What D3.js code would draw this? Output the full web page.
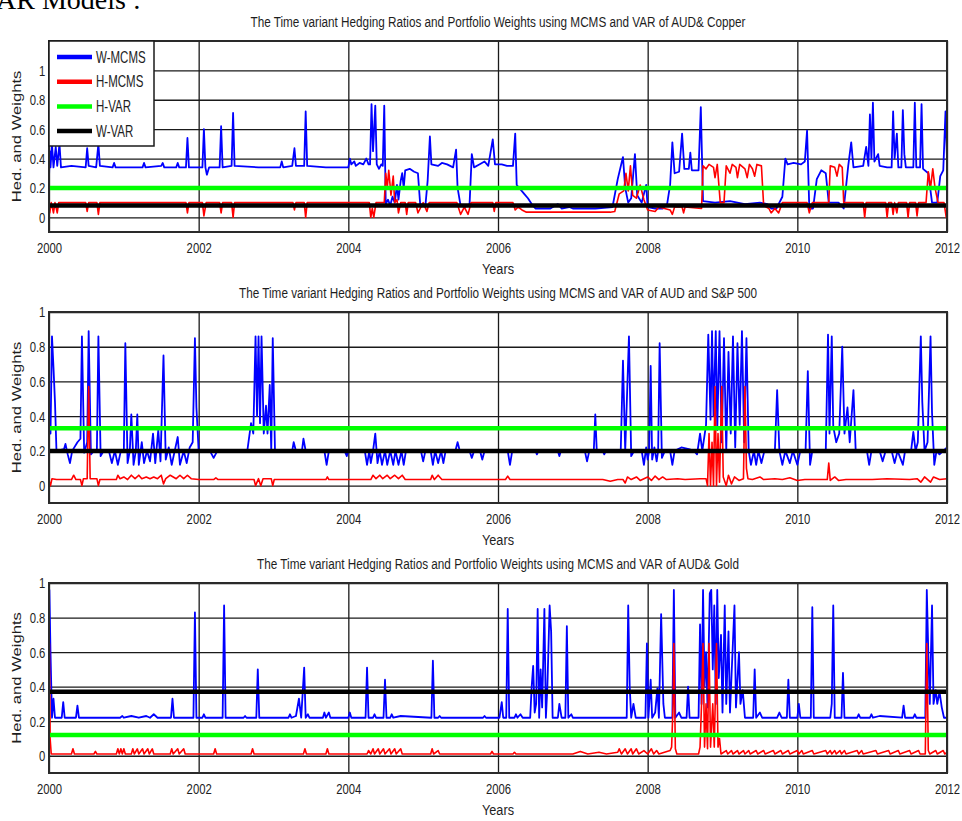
<!DOCTYPE html>
<html>
<head>
<meta charset="utf-8">
<script src="https://cdn.jsdelivr.net/npm/d3@7"></script>
<style>
  body { margin: 0; background: #fff; }
  text { font-family: 'Liberation Sans', Arial, sans-serif; fill: #1e1e1e; }
</style>
</head>
<body>
<div id="chart"></div>
<script>
'use strict';

// tick labels
var yearTicks = [2000, 2002, 2004, 2006, 2008, 2010, 2012];
var valueTicks = [0, 0.2, 0.4, 0.6, 0.8, 1];
var seriesNames = ['W-MCMS', 'H-MCMS', 'H-VAR', 'W-VAR'];
var titles = [
  'The Time variant Hedging Ratios and Portfolio Weights using MCMS and VAR of AUD& Copper',
  'The Time variant Hedging Ratios and Portfolio Weights using MCMS and VAR of AUD and S&P 500',
  'The Time variant Hedging Ratios and Portfolio Weights using MCMS and VAR of AUD& Gold'
];

// AUD & Copper  [year, value]
var copperW = [[2000,0.27],[2000.01,0.45],[2000.02,0.34],[2000.04,0.50],[2000.06,0.34],[2000.09,0.48],[2000.11,0.35],[2000.14,0.50],[2000.16,0.34],[2000.3,0.35],[2000.49,0.34],[2000.51,0.47],[2000.53,0.35],[2000.63,0.34],[2000.66,0.50],[2000.68,0.35],[2000.85,0.34],[2000.87,0.37],[2000.89,0.34],[2001.25,0.34],[2001.27,0.37],[2001.29,0.34],[2001.5,0.35],[2001.52,0.37],[2001.54,0.34],[2001.7,0.34],[2001.72,0.37],[2001.74,0.34],[2001.83,0.34],[2001.85,0.54],[2001.87,0.34],[2002.05,0.34],[2002.07,0.60],[2002.09,0.34],[2002.11,0.29],[2002.14,0.34],[2002.28,0.34],[2002.30,0.62],[2002.32,0.34],[2002.44,0.35],[2002.46,0.71],[2002.48,0.35],[2002.8,0.34],[2003.09,0.34],[2003.11,0.38],[2003.13,0.34],[2003.25,0.35],[2003.28,0.47],[2003.30,0.35],[2003.41,0.35],[2003.43,0.72],[2003.45,0.35],[2003.7,0.34],[2004.0,0.34],[2004.02,0.40],[2004.04,0.36],[2004.08,0.38],[2004.1,0.35],[2004.15,0.37],[2004.2,0.36],[2004.24,0.40],[2004.27,0.36],[2004.29,0.36],[2004.31,0.77],[2004.33,0.45],[2004.36,0.76],[2004.38,0.36],[2004.41,0.33],[2004.44,0.36],[2004.46,0.35],[2004.48,0.76],[2004.50,0.09],[2004.53,0.12],[2004.56,0.08],[2004.59,0.14],[2004.62,0.10],[2004.65,0.22],[2004.67,0.12],[2004.70,0.25],[2004.72,0.30],[2004.74,0.20],[2004.76,0.32],[2004.82,0.33],[2004.88,0.31],[2004.93,0.30],[2004.96,0.09],[2005.03,0.08],[2005.06,0.25],[2005.09,0.55],[2005.11,0.36],[2005.2,0.35],[2005.25,0.37],[2005.32,0.36],[2005.4,0.34],[2005.44,0.46],[2005.46,0.20],[2005.5,0.08],[2005.56,0.07],[2005.62,0.09],[2005.65,0.43],[2005.68,0.34],[2005.75,0.36],[2005.82,0.38],[2005.87,0.35],[2005.93,0.53],[2005.96,0.36],[2006.05,0.36],[2006.12,0.35],[2006.2,0.35],[2006.23,0.57],[2006.25,0.22],[2006.3,0.19],[2006.35,0.16],[2006.4,0.13],[2006.45,0.09],[2006.5,0.06],[2006.7,0.06],[2006.8,0.09],[2006.85,0.06],[2006.95,0.07],[2007.0,0.06],[2007.3,0.06],[2007.53,0.07],[2007.6,0.26],[2007.67,0.41],[2007.7,0.20],[2007.74,0.10],[2007.78,0.13],[2007.83,0.43],[2007.86,0.15],[2007.92,0.10],[2007.98,0.22],[2008.0,0.07],[2008.1,0.06],[2008.2,0.06],[2008.26,0.09],[2008.3,0.22],[2008.33,0.51],[2008.36,0.30],[2008.42,0.31],[2008.46,0.57],[2008.49,0.33],[2008.55,0.33],[2008.57,0.44],[2008.59,0.32],[2008.68,0.32],[2008.71,0.75],[2008.74,0.11],[2008.9,0.10],[2009.1,0.11],[2009.3,0.09],[2009.5,0.10],[2009.6,0.09],[2009.65,0.06],[2009.72,0.06],[2009.8,0.14],[2009.84,0.40],[2009.87,0.36],[2009.95,0.37],[2010.05,0.36],[2010.1,0.38],[2010.13,0.59],[2010.16,0.06],[2010.21,0.06],[2010.26,0.26],[2010.32,0.32],[2010.38,0.30],[2010.42,0.10],[2010.55,0.10],[2010.62,0.06],[2010.68,0.35],[2010.72,0.51],[2010.75,0.34],[2010.88,0.35],[2010.92,0.48],[2010.95,0.35],[2010.97,0.70],[2010.99,0.40],[2011.01,0.78],[2011.03,0.38],[2011.08,0.43],[2011.1,0.35],[2011.2,0.34],[2011.26,0.34],[2011.28,0.72],[2011.30,0.40],[2011.33,0.57],[2011.35,0.34],[2011.39,0.34],[2011.41,0.73],[2011.43,0.43],[2011.45,0.34],[2011.55,0.34],[2011.57,0.78],[2011.59,0.34],[2011.64,0.34],[2011.66,0.77],[2011.68,0.33],[2011.75,0.30],[2011.8,0.10],[2011.87,0.10],[2011.91,0.28],[2011.95,0.32],[2011.98,0.72],[2012.0,0.40]];
var copperH = [[2000,0.1],[2000.01,0.03],[2000.03,0.1],[2000.06,0.03],[2000.08,0.1],[2000.11,0.03],[2000.13,0.1],[2000.49,0.1],[2000.51,0.04],[2000.53,0.1],[2000.64,0.1],[2000.66,0.02],[2000.68,0.1],[2001.83,0.1],[2001.85,0.03],[2001.87,0.1],[2002.05,0.1],[2002.07,0.01],[2002.10,0.1],[2002.28,0.1],[2002.3,0.03],[2002.32,0.1],[2002.44,0.1],[2002.46,0.0],[2002.48,0.1],[2003.26,0.1],[2003.28,0.05],[2003.30,0.1],[2003.41,0.1],[2003.43,0.0],[2003.45,0.1],[2004.28,0.1],[2004.3,0.0],[2004.32,0.06],[2004.34,0.0],[2004.37,0.1],[2004.48,0.1],[2004.5,0.3],[2004.52,0.2],[2004.54,0.32],[2004.57,0.15],[2004.6,0.28],[2004.62,0.1],[2004.65,0.12],[2004.67,0.03],[2004.7,0.1],[2004.76,0.1],[2004.78,0.02],[2004.8,0.1],[2004.9,0.1],[2004.93,0.03],[2004.96,0.06],[2005.0,0.1],[2005.05,0.04],[2005.08,0.1],[2005.45,0.1],[2005.5,0.02],[2005.55,0.07],[2005.6,0.02],[2005.64,0.1],[2005.93,0.1],[2005.95,0.04],[2005.97,0.1],[2006.2,0.1],[2006.23,0.05],[2006.27,0.07],[2006.32,0.05],[2006.38,0.035],[2007.5,0.035],[2007.56,0.04],[2007.62,0.16],[2007.68,0.18],[2007.71,0.3],[2007.74,0.18],[2007.77,0.35],[2007.8,0.15],[2007.85,0.13],[2007.9,0.22],[2007.95,0.12],[2008.0,0.05],[2008.1,0.04],[2008.15,0.07],[2008.3,0.05],[2008.33,0.02],[2008.36,0.07],[2008.46,0.07],[2008.48,0.03],[2008.5,0.07],[2008.72,0.06],[2008.74,0.35],[2008.78,0.33],[2008.82,0.36],[2008.88,0.34],[2008.9,0.27],[2008.93,0.36],[2008.97,0.1],[2009.02,0.1],[2009.05,0.35],[2009.1,0.3],[2009.13,0.36],[2009.18,0.34],[2009.2,0.27],[2009.23,0.36],[2009.3,0.33],[2009.33,0.27],[2009.36,0.36],[2009.4,0.33],[2009.43,0.28],[2009.46,0.36],[2009.52,0.35],[2009.55,0.08],[2009.62,0.06],[2009.65,0.03],[2009.7,0.06],[2009.75,0.03],[2009.8,0.1],[2010.13,0.1],[2010.16,0.03],[2010.2,0.1],[2010.42,0.1],[2010.44,0.35],[2010.5,0.34],[2010.53,0.28],[2010.56,0.36],[2010.6,0.34],[2010.62,0.1],[2010.88,0.1],[2010.9,0.0],[2010.92,0.1],[2011.18,0.1],[2011.2,0.0],[2011.22,0.1],[2011.26,0.1],[2011.28,0.02],[2011.3,0.1],[2011.33,0.03],[2011.35,0.1],[2011.46,0.1],[2011.48,0.0],[2011.5,0.1],[2011.58,0.1],[2011.6,0.01],[2011.62,0.1],[2011.72,0.1],[2011.75,0.31],[2011.78,0.2],[2011.81,0.33],[2011.84,0.2],[2011.88,0.1],[2011.96,0.1],[2011.99,0.0],[2012,0.05]];
var copperHVar = [[2000,0.2],[2012,0.2]];
var copperWVar = [[2000,0.08],[2012,0.08]];

// AUD & S&P 500
var spW = [[2000,0.44],[2000.02,0.30],[2000.04,0.86],[2000.06,0.68],[2000.08,0.48],[2000.10,0.20],[2000.2,0.21],[2000.22,0.24],[2000.25,0.18],[2000.28,0.13],[2000.31,0.2],[2000.38,0.25],[2000.42,0.27],[2000.44,0.86],[2000.47,0.19],[2000.51,0.25],[2000.53,0.89],[2000.56,0.18],[2000.6,0.2],[2000.64,0.21],[2000.66,0.86],[2000.69,0.17],[2000.73,0.2],[2000.8,0.2],[2000.84,0.13],[2000.88,0.2],[2000.92,0.12],[2000.96,0.2],[2001.0,0.2],[2001.02,0.82],[2001.05,0.13],[2001.08,0.2],[2001.1,0.41],[2001.13,0.12],[2001.16,0.2],[2001.18,0.41],[2001.2,0.12],[2001.24,0.25],[2001.27,0.13],[2001.31,0.2],[2001.35,0.14],[2001.39,0.3],[2001.42,0.13],[2001.46,0.32],[2001.49,0.14],[2001.53,0.75],[2001.56,0.15],[2001.6,0.22],[2001.64,0.12],[2001.68,0.2],[2001.72,0.28],[2001.75,0.12],[2001.8,0.2],[2001.84,0.13],[2001.88,0.22],[2001.92,0.25],[2001.95,0.85],[2001.97,0.45],[2002.0,0.2],[2002.15,0.2],[2002.2,0.16],[2002.25,0.2],[2002.65,0.2],[2002.7,0.36],[2002.73,0.3],[2002.76,0.86],[2002.78,0.4],[2002.8,0.86],[2002.82,0.36],[2002.84,0.86],[2002.87,0.3],[2002.9,0.46],[2002.92,0.3],[2002.95,0.58],[2002.97,0.2],[2002.99,0.85],[2003.02,0.2],[2003.25,0.2],[2003.27,0.25],[2003.3,0.2],[2003.38,0.2],[2003.40,0.27],[2003.43,0.2],[2003.68,0.2],[2003.71,0.12],[2003.74,0.2],[2003.95,0.2],[2003.98,0.17],[2004.0,0.2],[2004.22,0.2],[2004.25,0.12],[2004.28,0.2],[2004.3,0.13],[2004.33,0.2],[2004.36,0.3],[2004.39,0.13],[2004.42,0.2],[2004.45,0.12],[2004.49,0.2],[2004.52,0.12],[2004.56,0.2],[2004.6,0.12],[2004.63,0.2],[2004.67,0.12],[2004.71,0.2],[2004.74,0.12],[2004.77,0.2],[2004.97,0.2],[2005.0,0.14],[2005.03,0.2],[2005.1,0.2],[2005.13,0.12],[2005.16,0.2],[2005.2,0.13],[2005.24,0.2],[2005.27,0.13],[2005.3,0.2],[2005.43,0.2],[2005.46,0.25],[2005.49,0.2],[2005.62,0.2],[2005.65,0.16],[2005.68,0.2],[2005.76,0.2],[2005.79,0.15],[2005.82,0.2],[2006.13,0.2],[2006.16,0.12],[2006.19,0.2],[2006.5,0.2],[2006.52,0.18],[2006.54,0.2],[2006.8,0.2],[2006.82,0.17],[2006.84,0.2],[2007.16,0.2],[2007.19,0.14],[2007.22,0.2],[2007.28,0.2],[2007.3,0.41],[2007.32,0.2],[2007.4,0.2],[2007.42,0.18],[2007.44,0.2],[2007.64,0.2],[2007.67,0.72],[2007.7,0.2],[2007.75,0.86],[2007.78,0.17],[2007.82,0.2],[2007.92,0.2],[2007.95,0.12],[2007.98,0.22],[2008.0,0.15],[2008.02,0.2],[2008.04,0.69],[2008.06,0.15],[2008.09,0.22],[2008.12,0.14],[2008.14,0.2],[2008.16,0.82],[2008.19,0.16],[2008.23,0.2],[2008.3,0.2],[2008.33,0.12],[2008.36,0.2],[2008.45,0.22],[2008.55,0.21],[2008.62,0.2],[2008.66,0.18],[2008.7,0.3],[2008.73,0.2],[2008.78,0.35],[2008.81,0.87],[2008.84,0.38],[2008.86,0.89],[2008.88,0.4],[2008.91,0.89],[2008.93,0.32],[2008.96,0.89],[2008.99,0.25],[2009.02,0.85],[2009.05,0.2],[2009.08,0.77],[2009.11,0.3],[2009.14,0.86],[2009.17,0.22],[2009.2,0.82],[2009.23,0.35],[2009.26,0.89],[2009.29,0.25],[2009.32,0.85],[2009.35,0.2],[2009.38,0.12],[2009.42,0.2],[2009.45,0.12],[2009.48,0.2],[2009.52,0.13],[2009.56,0.2],[2009.7,0.2],[2009.73,0.55],[2009.76,0.2],[2009.8,0.12],[2009.84,0.2],[2009.9,0.13],[2009.94,0.2],[2010.0,0.12],[2010.04,0.2],[2010.11,0.2],[2010.14,0.66],[2010.17,0.12],[2010.2,0.2],[2010.38,0.2],[2010.41,0.87],[2010.43,0.3],[2010.46,0.86],[2010.48,0.34],[2010.52,0.25],[2010.56,0.3],[2010.6,0.80],[2010.63,0.3],[2010.67,0.45],[2010.7,0.25],[2010.75,0.55],[2010.78,0.2],[2010.93,0.2],[2010.96,0.12],[2010.99,0.2],[2011.1,0.2],[2011.14,0.14],[2011.18,0.2],[2011.26,0.2],[2011.3,0.13],[2011.34,0.2],[2011.41,0.12],[2011.44,0.2],[2011.52,0.2],[2011.55,0.31],[2011.58,0.2],[2011.61,0.25],[2011.65,0.86],[2011.67,0.48],[2011.7,0.2],[2011.74,0.25],[2011.78,0.86],[2011.8,0.42],[2011.83,0.12],[2011.86,0.2],[2011.9,0.18],[2011.95,0.2],[2012.0,0.22]];
var spH = [[2000,0.03],[2000.02,0.0],[2000.04,0.04],[2000.1,0.035],[2000.3,0.035],[2000.33,0.06],[2000.36,0.035],[2000.42,0.035],[2000.44,0.0],[2000.46,0.04],[2000.51,0.04],[2000.53,0.57],[2000.55,0.04],[2000.64,0.04],[2000.66,0.0],[2000.68,0.035],[2000.9,0.035],[2000.92,0.06],[2000.95,0.04],[2001.0,0.05],[2001.05,0.035],[2001.1,0.06],[2001.15,0.04],[2001.2,0.06],[2001.24,0.04],[2001.3,0.05],[2001.35,0.04],[2001.4,0.05],[2001.45,0.04],[2001.5,0.06],[2001.53,0.01],[2001.56,0.04],[2001.62,0.06],[2001.7,0.04],[2001.75,0.06],[2001.8,0.04],[2001.85,0.06],[2001.9,0.04],[2002.0,0.035],[2002.2,0.035],[2002.23,0.045],[2002.26,0.035],[2002.74,0.035],[2002.76,0.0],[2002.8,0.04],[2002.83,0.0],[2002.86,0.04],[2002.97,0.04],[2002.99,0.0],[2003.01,0.035],[2003.7,0.035],[2003.72,0.05],[2003.74,0.035],[2004.3,0.035],[2004.33,0.06],[2004.37,0.04],[2004.42,0.06],[2004.46,0.04],[2004.52,0.06],[2004.56,0.04],[2004.62,0.06],[2004.67,0.04],[2004.72,0.06],[2004.76,0.035],[2005.1,0.035],[2005.12,0.06],[2005.15,0.035],[2005.2,0.06],[2005.25,0.035],[2006.1,0.035],[2006.13,0.055],[2006.16,0.035],[2007.4,0.035],[2007.5,0.025],[2007.6,0.035],[2007.67,0.035],[2007.7,0.015],[2007.73,0.05],[2007.78,0.035],[2007.85,0.05],[2007.9,0.03],[2008.0,0.05],[2008.05,0.03],[2008.1,0.055],[2008.15,0.035],[2008.2,0.05],[2008.25,0.035],[2008.4,0.04],[2008.5,0.035],[2008.7,0.04],[2008.78,0.04],[2008.8,0.0],[2008.82,0.3],[2008.84,0.0],[2008.86,0.25],[2008.88,0.0],[2008.9,0.57],[2008.92,0.0],[2008.94,0.3],[2008.96,0.02],[2008.99,0.57],[2009.01,0.05],[2009.05,0.0],[2009.08,0.06],[2009.12,0.01],[2009.16,0.05],[2009.22,0.03],[2009.28,0.04],[2009.29,0.3],[2009.30,0.57],[2009.32,0.1],[2009.34,0.04],[2009.4,0.035],[2009.5,0.05],[2009.55,0.035],[2009.7,0.04],[2009.8,0.035],[2009.9,0.045],[2010.0,0.03],[2010.1,0.035],[2010.4,0.035],[2010.42,0.13],[2010.44,0.03],[2010.5,0.05],[2010.55,0.03],[2010.65,0.035],[2011.0,0.035],[2011.2,0.04],[2011.5,0.035],[2011.6,0.04],[2011.65,0.02],[2011.7,0.05],[2011.78,0.02],[2011.82,0.05],[2011.9,0.035],[2012,0.04]];
var spHVar = [[2000,0.33],[2012,0.33]];
var spWVar = [[2000,0.2],[2012,0.2]];

// AUD & Gold
var goldW = [[2000,0.22],[2000.005,0.96],[2000.02,0.6],[2000.04,0.22],[2000.06,0.33],[2000.08,0.22],[2000.17,0.22],[2000.19,0.31],[2000.21,0.22],[2000.36,0.22],[2000.38,0.29],[2000.4,0.22],[2000.95,0.22],[2000.98,0.23],[2001.0,0.22],[2001.1,0.23],[2001.2,0.22],[2001.3,0.23],[2001.35,0.22],[2001.4,0.24],[2001.45,0.22],[2001.63,0.22],[2001.65,0.33],[2001.67,0.22],[2001.93,0.22],[2001.95,0.83],[2001.97,0.22],[2002.05,0.22],[2002.07,0.24],[2002.09,0.22],[2002.32,0.22],[2002.34,0.87],[2002.36,0.22],[2002.6,0.22],[2002.62,0.23],[2002.64,0.22],[2002.77,0.22],[2002.79,0.50],[2002.81,0.22],[2003.2,0.22],[2003.22,0.24],[2003.24,0.22],[2003.3,0.23],[2003.34,0.33],[2003.37,0.22],[2003.41,0.51],[2003.43,0.22],[2003.46,0.24],[2003.48,0.22],[2003.66,0.22],[2003.68,0.25],[2003.7,0.22],[2003.74,0.25],[2003.76,0.22],[2004.0,0.22],[2004.02,0.25],[2004.04,0.22],[2004.23,0.22],[2004.25,0.51],[2004.27,0.22],[2004.33,0.22],[2004.35,0.24],[2004.37,0.22],[2004.47,0.22],[2004.49,0.44],[2004.51,0.22],[2004.56,0.22],[2004.58,0.24],[2004.6,0.22],[2004.7,0.23],[2005.11,0.22],[2005.13,0.55],[2005.15,0.22],[2005.2,0.22],[2005.22,0.23],[2005.24,0.22],[2005.8,0.22],[2005.82,0.23],[2005.84,0.22],[2006.02,0.22],[2006.05,0.31],[2006.07,0.22],[2006.11,0.22],[2006.13,0.85],[2006.15,0.22],[2006.22,0.22],[2006.24,0.24],[2006.26,0.22],[2006.3,0.24],[2006.33,0.22],[2006.43,0.22],[2006.45,0.4],[2006.47,0.52],[2006.49,0.25],[2006.51,0.3],[2006.53,0.85],[2006.55,0.22],[2006.57,0.5],[2006.59,0.28],[2006.62,0.85],[2006.64,0.22],[2006.66,0.4],[2006.69,0.87],[2006.71,0.72],[2006.73,0.22],[2006.8,0.22],[2006.82,0.3],[2006.85,0.22],[2006.90,0.22],[2006.92,0.75],[2006.94,0.22],[2006.98,0.24],[2007.0,0.22],[2007.72,0.22],[2007.74,0.87],[2007.76,0.4],[2007.78,0.22],[2007.81,0.3],[2007.84,0.22],[2007.97,0.22],[2007.99,0.65],[2008.01,0.22],[2008.04,0.44],[2008.06,0.22],[2008.1,0.25],[2008.13,0.39],[2008.15,0.22],[2008.18,0.82],[2008.21,0.3],[2008.23,0.22],[2008.33,0.22],[2008.35,0.96],[2008.37,0.22],[2008.42,0.25],[2008.45,0.22],[2008.52,0.22],[2008.54,0.4],[2008.56,0.22],[2008.68,0.22],[2008.7,0.76],[2008.72,0.3],[2008.74,0.96],[2008.76,0.4],[2008.78,0.6],[2008.8,0.28],[2008.83,0.94],[2008.85,0.96],[2008.87,0.5],[2008.89,0.87],[2008.91,0.3],[2008.93,0.96],[2008.95,0.45],[2008.98,0.7],[2009.0,0.25],[2009.03,0.87],[2009.05,0.3],[2009.08,0.72],[2009.1,0.25],[2009.16,0.87],[2009.18,0.28],[2009.22,0.6],[2009.24,0.3],[2009.27,0.38],[2009.3,0.22],[2009.41,0.22],[2009.43,0.5],[2009.45,0.22],[2009.5,0.25],[2009.53,0.22],[2009.73,0.22],[2009.76,0.25],[2009.79,0.22],[2009.86,0.22],[2009.88,0.44],[2009.9,0.22],[2010.0,0.22],[2010.02,0.3],[2010.04,0.22],[2010.18,0.22],[2010.2,0.86],[2010.22,0.22],[2010.44,0.22],[2010.46,0.3],[2010.48,0.87],[2010.5,0.22],[2010.59,0.22],[2010.61,0.48],[2010.63,0.22],[2010.8,0.22],[2010.82,0.24],[2010.84,0.22],[2010.97,0.22],[2010.99,0.24],[2011.01,0.22],[2011.1,0.23],[2011.4,0.22],[2011.42,0.29],[2011.44,0.22],[2011.55,0.22],[2011.57,0.24],[2011.59,0.22],[2011.71,0.22],[2011.73,0.96],[2011.75,0.6],[2011.77,0.3],[2011.8,0.87],[2011.82,0.3],[2011.85,0.38],[2011.87,0.3],[2011.9,0.37],[2011.93,0.28],[2011.96,0.22],[2012,0.22]];
var goldH = [[2000,0.01],[2000.005,0.65],[2000.015,0.1],[2000.03,0.01],[2000.3,0.01],[2000.32,0.04],[2000.34,0.01],[2000.6,0.01],[2000.62,0.025],[2000.64,0.01],[2000.9,0.01],[2000.92,0.04],[2000.94,0.01],[2000.96,0.04],[2000.98,0.01],[2001.0,0.04],[2001.02,0.01],[2001.1,0.01],[2001.12,0.04],[2001.14,0.01],[2001.18,0.04],[2001.2,0.01],[2001.25,0.04],[2001.27,0.01],[2001.32,0.04],[2001.34,0.01],[2001.38,0.04],[2001.4,0.01],[2001.62,0.01],[2001.64,0.04],[2001.66,0.01],[2001.72,0.04],[2001.74,0.01],[2001.8,0.04],[2001.82,0.01],[2002.2,0.01],[2002.22,0.04],[2002.24,0.01],[2002.7,0.01],[2002.72,0.04],[2002.74,0.01],[2003.4,0.01],[2003.42,0.04],[2003.44,0.01],[2003.7,0.01],[2003.72,0.04],[2003.74,0.01],[2004.25,0.01],[2004.27,0.03],[2004.3,0.01],[2004.33,0.04],[2004.35,0.01],[2004.4,0.04],[2004.42,0.01],[2004.47,0.04],[2004.49,0.01],[2004.55,0.04],[2004.57,0.01],[2004.62,0.04],[2004.64,0.01],[2004.7,0.04],[2004.72,0.01],[2005.1,0.01],[2005.12,0.04],[2005.14,0.01],[2005.2,0.03],[2005.22,0.01],[2005.9,0.01],[2005.92,0.025],[2005.94,0.01],[2006.2,0.01],[2006.22,0.02],[2006.24,0.01],[2007.0,0.01],[2007.1,0.025],[2007.2,0.01],[2007.35,0.02],[2007.45,0.01],[2007.6,0.02],[2007.62,0.04],[2007.65,0.01],[2007.7,0.04],[2007.73,0.01],[2007.78,0.04],[2007.8,0.01],[2007.85,0.04],[2007.88,0.01],[2007.95,0.03],[2008.0,0.01],[2008.05,0.04],[2008.08,0.01],[2008.12,0.03],[2008.15,0.01],[2008.3,0.03],[2008.32,0.05],[2008.34,0.3],[2008.35,0.65],[2008.37,0.04],[2008.39,0.01],[2008.68,0.01],[2008.7,0.05],[2008.72,0.3],[2008.74,0.65],[2008.76,0.05],[2008.78,0.3],[2008.8,0.04],[2008.82,0.65],[2008.84,0.05],[2008.87,0.3],[2008.89,0.05],[2008.92,0.65],[2008.94,0.05],[2008.96,0.1],[2008.98,0.01],[2009.05,0.03],[2009.07,0.01],[2009.12,0.03],[2009.14,0.01],[2009.2,0.03],[2009.22,0.01],[2009.28,0.03],[2009.3,0.01],[2009.35,0.03],[2009.37,0.01],[2009.45,0.03],[2009.47,0.01],[2009.55,0.03],[2009.57,0.01],[2009.68,0.03],[2009.7,0.01],[2009.78,0.03],[2009.8,0.01],[2009.88,0.03],[2009.9,0.01],[2010.0,0.03],[2010.02,0.01],[2010.06,0.03],[2010.08,0.01],[2010.2,0.03],[2010.22,0.01],[2010.38,0.03],[2010.4,0.01],[2010.44,0.03],[2010.46,0.01],[2010.5,0.03],[2010.52,0.01],[2010.57,0.03],[2010.59,0.01],[2010.63,0.03],[2010.65,0.01],[2010.8,0.03],[2010.82,0.01],[2010.86,0.03],[2010.88,0.01],[2011.05,0.03],[2011.07,0.01],[2011.22,0.03],[2011.24,0.01],[2011.35,0.03],[2011.37,0.01],[2011.5,0.03],[2011.52,0.01],[2011.62,0.03],[2011.64,0.01],[2011.71,0.01],[2011.73,0.65],[2011.75,0.03],[2011.77,0.01],[2011.85,0.03],[2011.87,0.01],[2011.95,0.03],[2011.97,0.01],[2012,0.02]];
var goldHVar = [[2000,0.12],[2012,0.12]];
var goldWVar = [[2000,0.37],[2012,0.37]];

var colour = {'W-MCMS': '#0000ff', 'H-MCMS': '#ff0000', 'H-VAR': '#00ff00', 'W-VAR': '#000000'};
var lineWidth = {'W-MCMS': 1.8, 'H-MCMS': 1.6, 'H-VAR': 4.5, 'W-VAR': 4.5};

var left = 49;
var right = 947;
var midX = (left + right) / 2;

var svg = d3.select('#chart')
            .append('svg')
            .attr('width', 962)
            .attr('height', 821);

// stray bit of the surrounding document
svg.append('text')
   .attr('x', -4)
   .attr('y', 9)
   .style('font-family', "'Liberation Serif', 'Times New Roman', serif")
   .style('font-size', '28px')
   .style('fill', '#000')
   .text('AR Models :');

function makePanel(p) {
  var x = d3.scaleLinear().domain([2000, 2012]).range([left, right]);
  var y = d3.scaleLinear().domain([p.yMin, p.yMax]).range([p.bottom, p.top]);
  var g = svg.append('g');

  // grid lines come from the axes, drawn under the data
  var xAxis = d3.axisBottom(x)
                .tickValues(yearTicks)
                .tickSize(-(p.bottom - p.top))
                .tickPadding(10)
                .tickFormat(d3.format('d'));
  var yAxis = d3.axisLeft(y)
                .tickValues(valueTicks)
                .tickSize(-(right - left))
                .tickPadding(5)
                .tickFormat(d3.format('~g'));

  var gx = g.append('g')
            .attr('transform', 'translate(0,' + p.bottom + ')')
            .call(xAxis);
  var gy = g.append('g')
            .attr('transform', 'translate(' + left + ',0)')
            .call(yAxis);

  [gx, gy].forEach(function(ax) {
    ax.select('.domain').remove();
    ax.selectAll('line').attr('stroke', '#1a1a1a').attr('stroke-width', 1.3);
    ax.selectAll('text')
      .style('font-size', '15.5px')
      .attr('fill', '#1e1e1e')
      .attr('transform', 'scale(0.73,1)');
  });

  var line = d3.line()
               .x(function(d) { return x(d[0]); })
               .y(function(d) { return y(d[1]); });

  var series = [
    {name: 'W-MCMS', values: p.w},
    {name: 'H-MCMS', values: p.h},
    {name: 'H-VAR', values: p.hVar},
    {name: 'W-VAR', values: p.wVar}
  ];

  g.selectAll('.serie')
   .data(series)
   .enter().append('path')
     .attr('class', 'serie')
     .attr('d', function(d) { return line(d.values); })
     .attr('fill', 'none')
     .attr('stroke', function(d) { return colour[d.name]; })
     .attr('stroke-width', function(d) { return lineWidth[d.name]; })
     .attr('stroke-linejoin', 'round');

  g.append('rect')
   .attr('x', left)
   .attr('y', p.top)
   .attr('width', right - left)
   .attr('height', p.bottom - p.top)
   .attr('fill', 'none')
   .attr('stroke', '#2a2a2a')
   .attr('stroke-width', 2);

  g.append('text')
   .attr('x', midX)
   .attr('y', p.titleY)
   .attr('text-anchor', 'middle')
   .attr('textLength', p.titleWidth)
   .attr('lengthAdjust', 'spacingAndGlyphs')
   .style('font-size', '14px')
   .text(p.title);

  g.append('text')
   .attr('x', midX)
   .attr('y', p.bottom + 42)
   .attr('text-anchor', 'middle')
   .attr('textLength', 32)
   .attr('lengthAdjust', 'spacingAndGlyphs')
   .style('font-size', '15.5px')
   .text('Years');

  g.append('text')
   .attr('transform', 'translate(21,' + ((p.top + p.bottom) / 2) + ') rotate(-90) scale(1.33,1)')
   .attr('text-anchor', 'middle')
   .style('font-size', '12.5px')
   .text('Hed. and Weights');

  if (p.legend) {
    var lg = g.append('g');
    lg.append('rect')
      .attr('x', left)
      .attr('y', p.top)
      .attr('width', 105)
      .attr('height', 105)
      .attr('fill', '#fff')
      .attr('stroke', '#1a1a1a')
      .attr('stroke-width', 1.5);

    var item = lg.selectAll('.legend')
                 .data(seriesNames)
                 .enter().append('g')
                   .attr('class', 'legend')
                   .attr('transform', function(d, i) { return 'translate(' + left + ',' + (p.top + 16 + i * 24.7) + ')'; });

    item.append('line')
        .attr('x1', 8)
        .attr('x2', 43)
        .attr('stroke', function(d) { return colour[d]; })
        .attr('stroke-width', 4.5);

    item.append('text')
        .attr('transform', 'translate(47,0) scale(0.72,1)')
        .attr('dy', '0.36em')
        .style('font-size', '16px')
        .text(function(d) { return d; });
  }
}

makePanel({top: 41, bottom: 232, yMin: -0.1, yMax: 1.2, title: titles[0], titleY: 27, titleWidth: 495,
           w: copperW, h: copperH, hVar: copperHVar, wVar: copperWVar, legend: true});
makePanel({top: 312, bottom: 503, yMin: -0.1, yMax: 1, title: titles[1], titleY: 298, titleWidth: 518,
           w: spW, h: spH, hVar: spHVar, wVar: spWVar, legend: false});
makePanel({top: 583, bottom: 773, yMin: -0.1, yMax: 1, title: titles[2], titleY: 569, titleWidth: 482,
           w: goldW, h: goldH, hVar: goldHVar, wVar: goldWVar, legend: false});
</script>
</body>
</html>
